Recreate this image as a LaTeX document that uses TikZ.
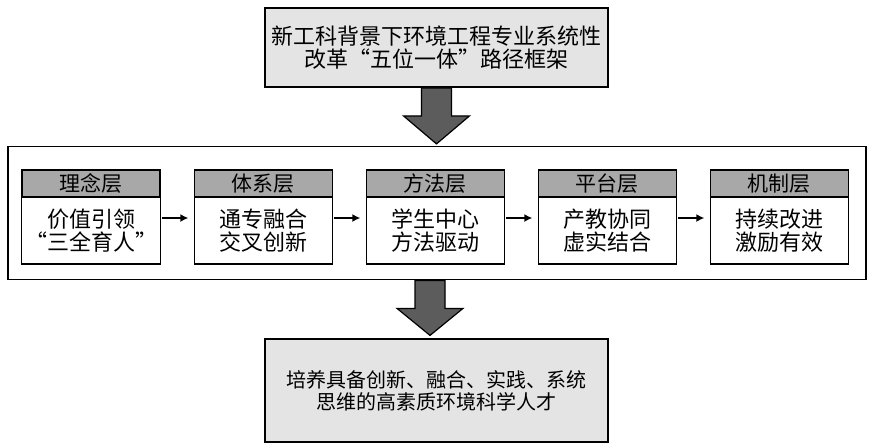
\documentclass[tikz,border=0pt]{standalone}
\usepackage{fontspec}
\setmainfont{Noto Sans CJK SC}
\usetikzlibrary{positioning,arrows.meta}
\definecolor{boxgray}{HTML}{E4E4E4}
\definecolor{headgray}{HTML}{A8A8A8}
\definecolor{arrowgray}{HTML}{5C5C5C}
\tikzset{
    bigbox/.style={draw, line width=1.8pt, fill=boxgray, minimum width=343pt, align=center},
    layerhead/.style={draw, line width=1.5pt, fill=headgray, outer sep=0pt, minimum width=138pt,
        minimum height=27pt, inner sep=0pt, font=\fontsize{21}{23}\selectfont},
    layerbody/.style={draw, line width=1.5pt, fill=white, outer sep=0pt, minimum width=138pt,
        minimum height=67pt, align=center, font=\fontsize{22}{23}\selectfont},
    fatarrow/.style={draw=black, line width=1.2pt, fill=arrowgray, line join=miter},
    flow/.style={-{Latex[length=8pt,width=8pt]}, line width=1.5pt, shorten <=2pt, shorten >=6pt}
}
\begin{document}
\begin{tikzpicture}[x=1pt, y=-1pt]
    \useasboundingbox (0,0) rectangle (870,445);
    \node[bigbox, minimum height=79pt, font=\fontsize{22}{23}\selectfont] (goal) at (436.5,47.5)
        {新工科背景下环境工程专业系统性\\改革“五位一体”路径框架};
    \node[draw, line width=1.8pt, minimum width=858pt, minimum height=133pt] (frame) at (437,213) {};
    \node[layerbody] (linian) at (91,230.5) {价值引领\\“三全育人”};
    \node[layerbody, right=34pt of linian] (tixi) {通专融合\\交叉创新};
    \node[layerbody, right=34pt of tixi] (fangfa) {学生中心\\方法驱动};
    \node[layerbody, right=34pt of fangfa] (pingtai) {产教协同\\虚实结合};
    \node[layerbody, right=34pt of pingtai] (jizhi) {持续改进\\激励有效};
    \node[layerhead, above=0pt of linian] (linianhd) {理念层};
    \node[layerhead, above=0pt of tixi] (tixihd) {体系层};
    \node[layerhead, above=0pt of fangfa] (fangfahd) {方法层};
    \node[layerhead, above=0pt of pingtai] (pingtaihd) {平台层};
    \node[layerhead, above=0pt of jizhi] (jizhihd) {机制层};
    \node[bigbox, minimum height=103pt, font=\fontsize{20}{22}\selectfont] (talent) at (436.5,390.5)
        {培养具备创新、融合、实践、系统\\思维的高素质环境科学人才};
    \draw[flow] ([yshift=12.5pt]linian.east) -- ([yshift=12.5pt]tixi.west);
    \draw[flow] ([yshift=12.5pt]tixi.east) -- ([yshift=12.5pt]fangfa.west);
    \draw[flow] ([yshift=12.5pt]fangfa.east) -- ([yshift=12.5pt]pingtai.west);
    \draw[flow] ([yshift=12.5pt]pingtai.east) -- ([yshift=12.5pt]jizhi.west);
    \draw[fatarrow] ([xshift=-15pt]goal.south) -- ++(0,28) -- ++(-18,0) -- ++(33,28)
        -- ++(33,-28) -- ++(-18,0) -- ([xshift=15pt]goal.south) -- cycle;
    \draw[fatarrow] ([xshift=-22pt]frame.south) -- ++(0,28) -- ++(-18,0) -- ++(33,27)
        -- ++(33,-27) -- ++(-18,0) -- ([xshift=8pt]frame.south) -- cycle;
\end{tikzpicture}
\end{document}
